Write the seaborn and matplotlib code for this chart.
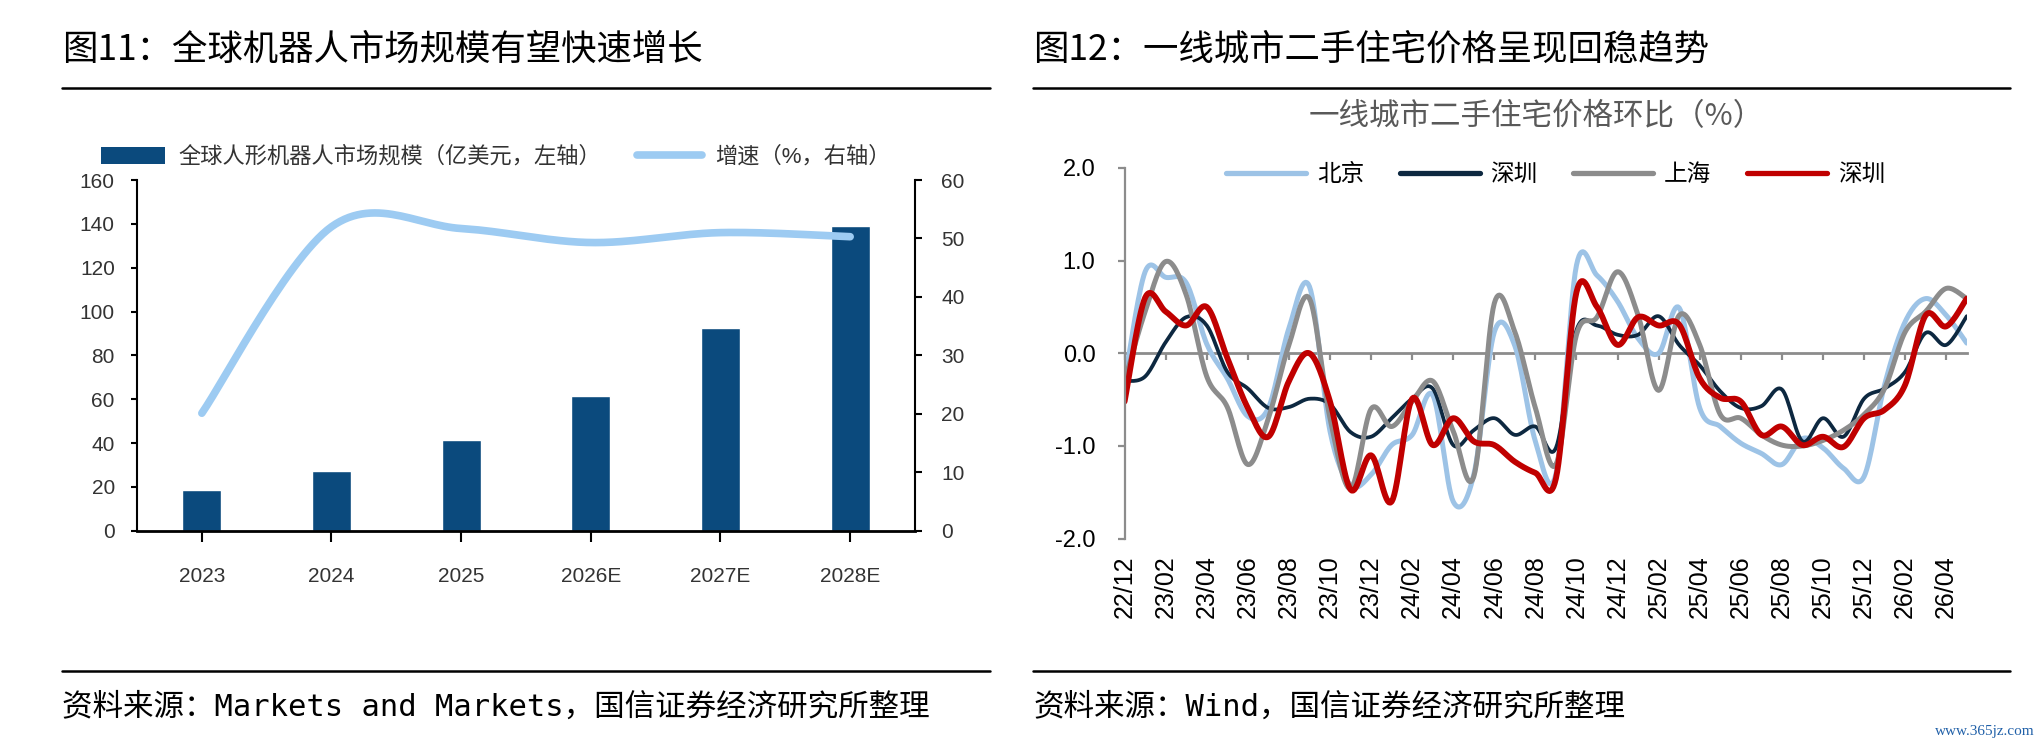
import numpy as np
import matplotlib
matplotlib.use("Agg")
import matplotlib.pyplot as plt
import seaborn as sns
from matplotlib.lines import Line2D
from matplotlib.patches import Patch

# ================= DATA =================
# 图11 全球人形机器人市场规模
years = ["2023", "2024", "2025", "2026E", "2027E", "2028E"]
market_size = [18.5, 27.4, 41.3, 61.6, 92.6, 139.0]   # 亿美元, 左轴
growth = [20.1, 52.0, 51.7, 49.3, 51.0, 50.3]          # %, 右轴

# 图12 一线城市二手住宅价格环比 (%), 月度 22/12 - 26/05
month_ticks = ["22/12", "23/02", "23/04", "23/06", "23/08", "23/10", "23/12",
               "24/02", "24/04", "24/06", "24/08", "24/10", "24/12", "25/02",
               "25/04", "25/06", "25/08", "25/10", "25/12", "26/02", "26/04"]
beijing = [-0.30, 0.88, 0.82, 0.76, 0.10, -0.27, -0.68, -0.59, 0.27, 0.72,
           -0.84, -1.42, -1.31, -0.99, -0.88, -0.45, -1.60, -1.31, 0.23, 0.08,
           -0.95, -1.30, 0.95, 0.84, 0.56, 0.16, 0.00, 0.49, -0.59, -0.79,
           -0.97, -1.08, -1.20, -0.92, -1.02, -1.24, -1.33, -0.34, 0.34, 0.59,
           0.41, 0.11]
shenzhen_a = [-0.30, -0.25, 0.12, 0.39, 0.30, -0.20, -0.38, -0.59, -0.58, -0.49,
              -0.55, -0.85, -0.90, -0.70, -0.49, -0.38, -0.99, -0.83, -0.70, -0.88,
              -0.79, -1.02, 0.25, 0.30, 0.20, 0.20, 0.40, 0.09, -0.13, -0.41,
              -0.59, -0.57, -0.39, -0.95, -0.70, -0.90, -0.49, -0.38, -0.20, 0.22,
              0.09, 0.40]
shanghai = [-0.30, 0.45, 0.99, 0.63, -0.25, -0.58, -1.20, -0.70, 0.09, 0.59,
            -0.70, -1.46, -0.60, -0.79, -0.52, -0.30, -0.84, -1.33, 0.54, 0.23,
            -0.59, -1.20, 0.20, 0.39, 0.88, 0.41, -0.40, 0.41, 0.09, -0.66,
            -0.70, -0.88, -0.99, -1.00, -0.94, -0.83, -0.66, -0.38, 0.23, 0.45,
            0.70, 0.59]
shenzhen_b = [-0.52, 0.60, 0.45, 0.30, 0.50, -0.05, -0.59, -0.90, -0.30, 0.00,
              -0.52, -1.47, -1.10, -1.60, -0.49, -0.99, -0.70, -0.95, -0.99, -1.17,
              -1.29, -1.35, 0.66, 0.50, 0.09, 0.39, 0.30, 0.31, -0.27, -0.48,
              -0.52, -0.88, -0.79, -0.99, -0.90, -1.01, -0.70, -0.61, -0.34, 0.41,
              0.29, 0.59]
series_names = ["北京", "深圳", "上海", "深圳"]
# =========================================

W, H = 2040, 742
BAR = "#0B4A7D"
GROWTH_LINE = "#9DCBF2"
SERIES_COLORS = ["#9DC3E6", "#0D2840", "#8C8C8C", "#C00000"]
SERIES_LW = [3.6, 2.7, 3.6, 4.2]
AX_GRAY = "#8C8C8C"
CJK = ["Noto Sans CJK SC", "DejaVu Sans"]


def smooth(y, n=16):
    """Excel-style smoothed line (cubic Bezier through each point)."""
    y = np.asarray(y, float)
    x = np.arange(len(y), dtype=float)
    xs, ys = [], []
    last = len(y) - 1
    for i in range(last):
        p0, p3 = max(i - 1, 0), min(i + 2, last)
        c1x = x[i] + (x[i + 1] - x[p0]) / 6
        c1y = y[i] + (y[i + 1] - y[p0]) / 6
        c2x = x[i + 1] - (x[p3] - x[i]) / 6
        c2y = y[i + 1] - (y[p3] - y[i]) / 6
        t = np.linspace(0, 1, n, endpoint=(i == last - 1))
        a, b, c, d = (1 - t) ** 3, 3 * (1 - t) ** 2 * t, 3 * (1 - t) * t ** 2, t ** 3
        xs.append(a * x[i] + b * c1x + c * c2x + d * x[i + 1])
        ys.append(a * y[i] + b * c1y + c * c2y + d * y[i + 1])
    return np.concatenate(xs), np.concatenate(ys)


def fx(px):
    return px / W


def fy(py):
    return 1 - py / H


sns.set_theme(style="white")
plt.rcParams["font.family"] = ["Liberation Sans", "Noto Sans CJK SC"]

fig = plt.figure(figsize=(W / 100, H / 100), dpi=100)

# ---------- page decoration ----------
for x0, x1, title, source in [
    (62, 990, "图11：全球机器人市场规模有望快速增长",
     "资料来源：Markets and Markets，国信证券经济研究所整理"),
    (1033, 2010, "图12：一线城市二手住宅价格呈现回稳趋势",
     "资料来源：Wind，国信证券经济研究所整理"),
]:
    fig.text(fx(x0), fy(50), title, fontsize=25.5, family=CJK, va="center", color="black")
    fig.add_artist(Line2D([fx(x0), fx(x1)], [fy(88), fy(88)], color="black", lw=1.8))
    fig.add_artist(Line2D([fx(x0), fx(x1)], [fy(671), fy(671)], color="black", lw=1.8))
    fig.text(fx(x0), fy(707), source, fontsize=22, va="center", color="black",
             family=["DejaVu Sans Mono", "Noto Sans CJK SC"])

fig.text(fx(2035), fy(732), "www.365jz.com", fontsize=11, color="#2060A8",
         ha="right", va="center", family=["Liberation Serif"])

# ---------- left chart: bars + growth line ----------
ax_l = fig.add_axes([fx(137), fy(530.7), fx(915) - fx(137), fy(180) - fy(530.7)])
sns.barplot(x=years, y=market_size, color=BAR, saturation=1, width=0.3, ax=ax_l)
ax_l.set_xlim(-0.5, 5.5)
ax_l.set_ylim(0, 160)
ax_l.set_yticks(range(0, 161, 20))
ax_l.set_xlabel("")
ax_l.set_ylabel("")

ax_g = ax_l.twinx()
gx, gy = smooth(growth, n=30)
sns.lineplot(x=gx, y=gy, ax=ax_g, color=GROWTH_LINE, lw=5.5, sort=False,
             estimator=None, solid_capstyle="round")
ax_g.set_ylim(0, 60)
ax_g.set_yticks(range(0, 61, 10))
ax_g.set_ylabel("")
ax_l.set_xlim(-0.5, 5.5)

for a in (ax_l, ax_g):
    a.spines["top"].set_visible(False)
    for side in ("left", "right", "bottom"):
        a.spines[side].set_color("black")
        a.spines[side].set_linewidth(1.5)
ax_l.spines["right"].set_visible(False)
ax_g.spines["left"].set_visible(False)
ax_g.spines["bottom"].set_visible(False)
ax_l.spines["bottom"].set_linewidth(2.0)

ax_l.tick_params(axis="x", direction="out", length=8, width=1.5, color="black",
                 pad=18, labelsize=15, labelcolor="#333333", bottom=True)
ax_l.tick_params(axis="y", direction="out", length=4, width=1.5, color="black",
                 pad=12, labelsize=15, labelcolor="#333333", left=True)
ax_g.tick_params(axis="y", direction="out", length=5, width=1.5, color="black",
                 pad=14, labelsize=15, labelcolor="#333333", right=True)

fig.legend(
    [Patch(facecolor=BAR, edgecolor="none"),
     Line2D([], [], color=GROWTH_LINE, lw=5.5, solid_capstyle="round")],
    ["全球人形机器人市场规模（亿美元，左轴）", "增速（%，右轴）"],
    loc="center left", bbox_to_anchor=(fx(101), fy(157)), ncol=2, frameon=False,
    fontsize=16, handlelength=2.9, handleheight=0.8, handletextpad=0.6,
    columnspacing=1.6, borderaxespad=0, borderpad=0, labelcolor="#333333",
)

# ---------- right chart: price change lines ----------
x_end = 1124.6 + 41 * 20.54
ax_r = fig.add_axes([fx(1124.6), fy(538.7), fx(x_end) - fx(1124.6), fy(167.9) - fy(538.7)])
for vals, color, lw in zip([beijing, shenzhen_a, shanghai, shenzhen_b],
                           SERIES_COLORS, SERIES_LW):
    sx, sy = smooth(vals)
    sns.lineplot(x=sx, y=sy, ax=ax_r, color=color, lw=lw, sort=False,
                 estimator=None, solid_capstyle="round")

ax_r.set_xlim(0, 41)
ax_r.set_ylim(-2, 2)
ax_r.set_yticks([2, 1, 0, -1, -2])
ax_r.set_yticklabels(["2.0", "1.0", "0.0", "-1.0", "-2.0"])
ax_r.set_xlabel("")
ax_r.set_ylabel("")

ax_r.spines["top"].set_visible(False)
ax_r.spines["right"].set_visible(False)
ax_r.spines["left"].set_color(AX_GRAY)
ax_r.spines["left"].set_linewidth(1.6)
ax_r.spines["bottom"].set_position(("data", 0))
ax_r.spines["bottom"].set_color(AX_GRAY)
ax_r.spines["bottom"].set_linewidth(2.0)
ax_r.spines["bottom"].set_zorder(0.5)

tick_pos = list(range(0, 41, 2))
ax_r.set_xticks(tick_pos)
ax_r.tick_params(axis="x", direction="out", length=5, width=1.6, color=AX_GRAY,
                 labelbottom=False, bottom=True)
ax_r.tick_params(axis="y", direction="out", length=5, width=1.6, color=AX_GRAY,
                 pad=16, labelsize=17, labelcolor="black", left=True)

sec = ax_r.secondary_xaxis("bottom")
sec.set_xticks(tick_pos)
sec.set_xticklabels(month_ticks, rotation=90)
sec.tick_params(length=0, pad=12, labelsize=18, labelcolor="black")
sec.spines["bottom"].set_visible(False)

fig.text(fx(1536), fy(117), "一线城市二手住宅价格环比（%）", fontsize=22, color="#595959",
         ha="center", va="center", family=CJK)

fig.legend(
    [Line2D([], [], color=c, lw=3.8) for c in SERIES_COLORS],
    series_names,
    loc="center left", bbox_to_anchor=(fx(1226), fy(175)), ncol=4, frameon=False,
    fontsize=17, handlelength=3.4, handletextpad=0.45, columnspacing=1.5,
    borderaxespad=0, borderpad=0, labelcolor="black",
)

fig.savefig("out.png", dpi=100)
plt.close(fig)
